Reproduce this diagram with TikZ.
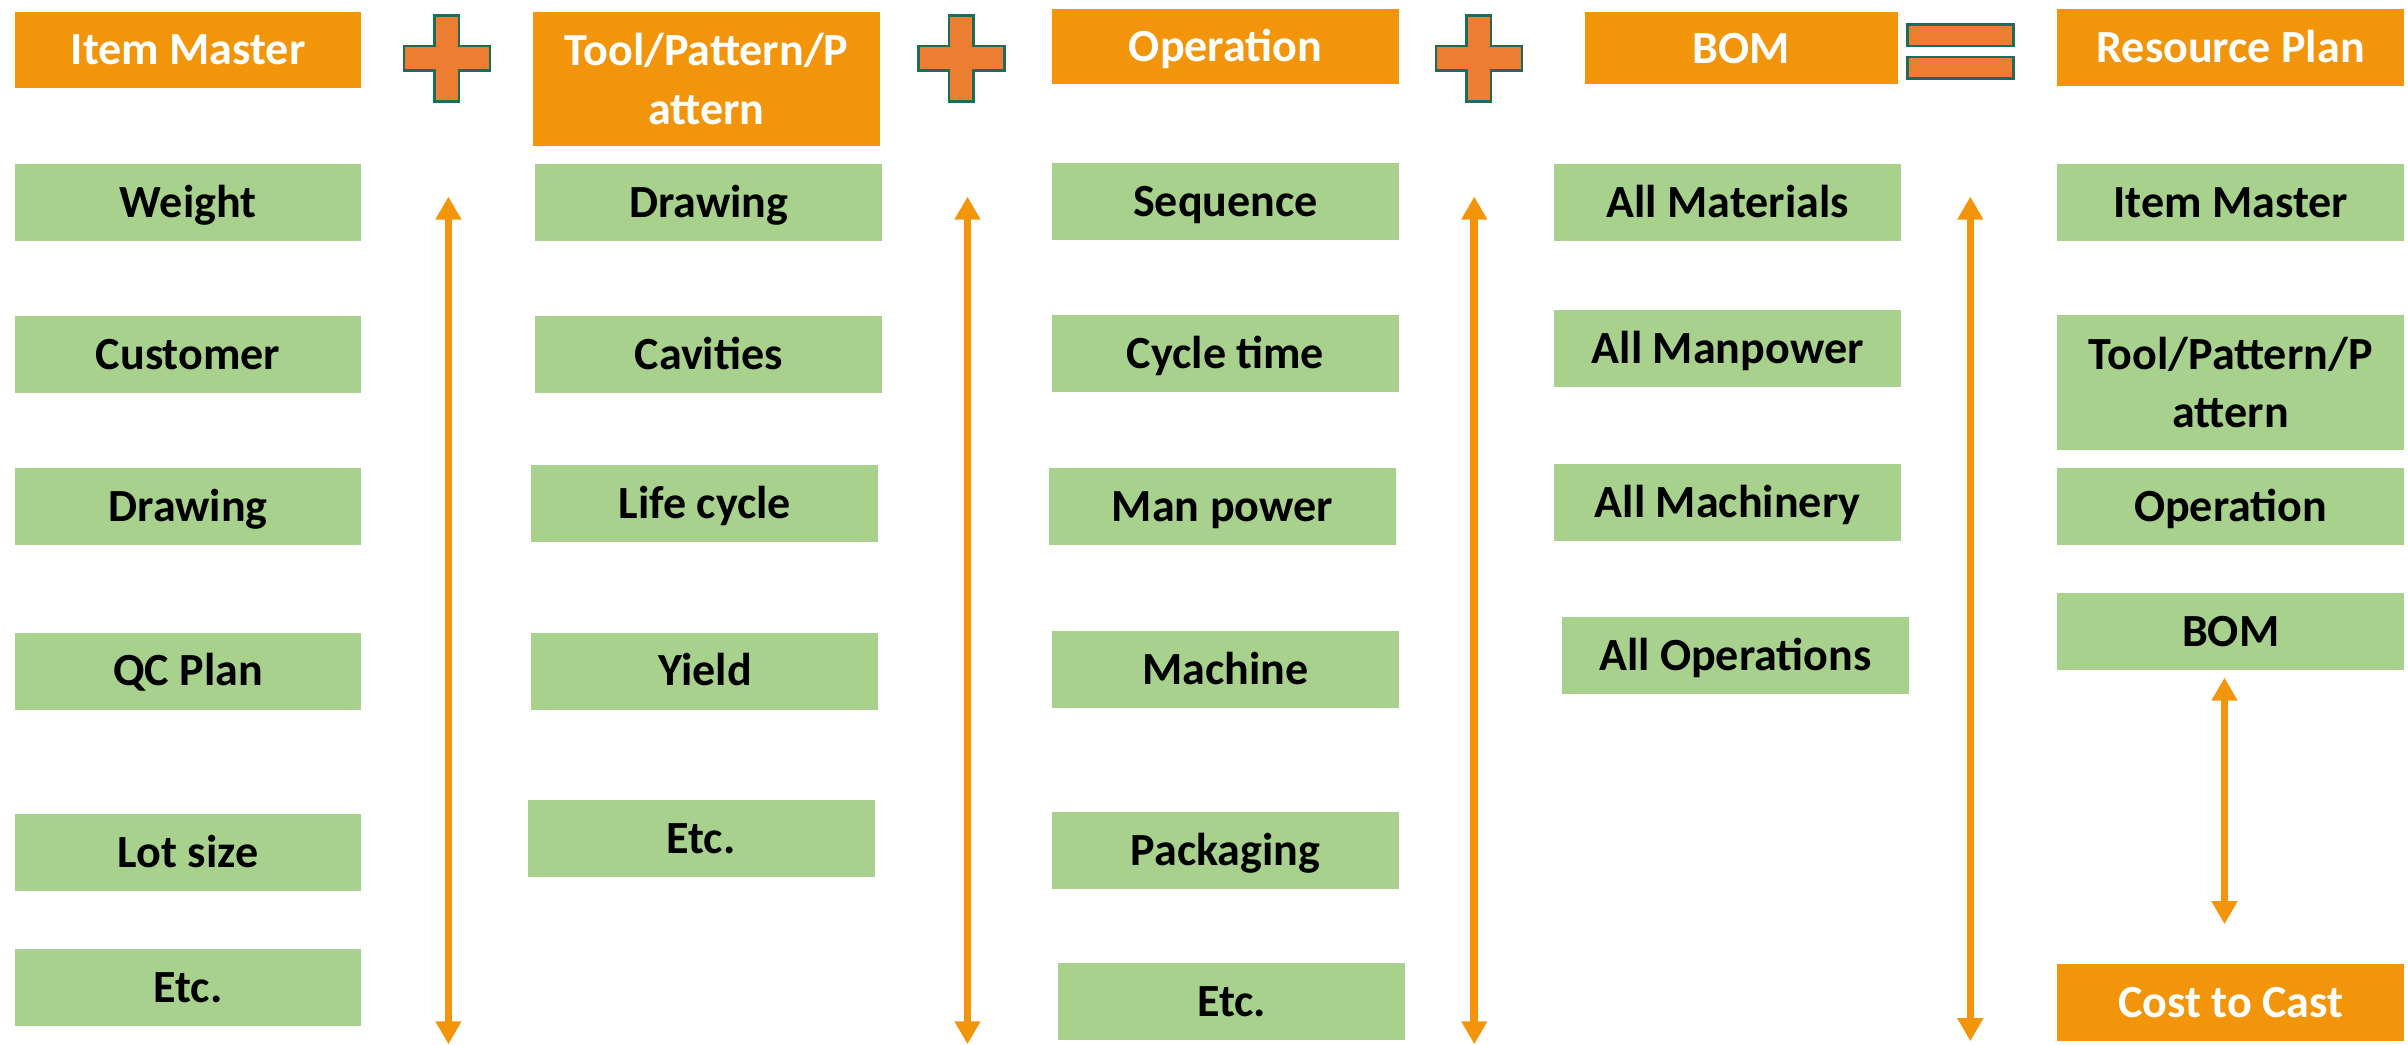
\documentclass[tikz,border=0pt]{standalone}
\usepackage{fontspec}
\setmainfont{Carlito}
\usetikzlibrary{arrows.meta}
\definecolor{hdr}{HTML}{F2950A}
\definecolor{grn}{HTML}{A9D18E}
\definecolor{plusfill}{HTML}{ED7D31}
\definecolor{plusline}{HTML}{1E6B5A}
\begin{document}
\begin{tikzpicture}[x=1pt,y=-1pt,
  base/.style={inner sep=0pt,align=center,minimum width=226pt,minimum height=50pt,font=\fontsize{30}{38}\selectfont\bfseries},
  one/.style={text height=19.3pt,text depth=0pt},
  hbox/.style={base,fill=hdr,text=white},
  gbox/.style={base,fill=grn,text=black},
  arr/.style={draw=hdr,line width=5pt,{Triangle[width=16pt,length=15pt]}-{Triangle[width=16pt,length=15pt]}},
  op/.style={fill=plusfill,draw=plusline,line width=1.6pt}]
\useasboundingbox (0,0) rectangle (1568,680);
% headers
\node[hbox,one,minimum width=225pt,minimum height=49pt] (h1) at (122.5,32.5) {Item Master};
\node[hbox,minimum height=87pt] (h2) at (460,51.5) {Tool/Pattern/P\\attern};
\node[hbox,one,minimum height=49pt] (h3) at (798,30.5) {Operation};
\node[hbox,one,minimum width=204pt,minimum height=47pt] (h4) at (1134,31.5) {BOM};
\node[hbox,one] (h5) at (1452.5,31) {Resource Plan};
% plus signs
\foreach \cx/\nm in {291/p1,626/p2,963/p3}{
  \draw[op] (\cx-8,10) -- (\cx+8,10) -- (\cx+8,30) -- (\cx+28,30) -- (\cx+28,46) -- (\cx+8,46) -- (\cx+8,66) -- (\cx-8,66) -- (\cx-8,46) -- (\cx-28,46) -- (\cx-28,30) -- (\cx-8,30) -- cycle;
}
% equals
\draw[op] (1242,16) rectangle (1311,30);
\draw[op] (1242,37) rectangle (1311,51);
% column 1
\node[gbox,one,minimum width=225pt] (c1a) at (122.5,132) {Weight};
\node[gbox,one,minimum width=225pt] (c1b) at (122.5,231) {Customer};
\node[gbox,one,minimum width=225pt] (c1c) at (122.5,330) {Drawing};
\node[gbox,one,minimum width=225pt] (c1d) at (122.5,437) {QC Plan};
\node[gbox,one,minimum width=225pt] (c1e) at (122.5,555) {Lot size};
\node[gbox,one,minimum width=225pt] (c1f) at (122.5,643) {Etc.};
% column 2
\node[gbox,one] (c2a) at (461.5,132) {Drawing};
\node[gbox,one] (c2b) at (461.5,231) {Cavities};
\node[gbox,one] (c2c) at (459,328) {Life cycle};
\node[gbox,one] (c2d) at (459,437) {Yield};
\node[gbox,one] (c2e) at (456.5,546) {Etc.};
% column 3
\node[gbox,one] (c3a) at (798,131) {Sequence};
\node[gbox,one] (c3b) at (798,230) {Cycle time};
\node[gbox,one] (c3c) at (796,330) {Man power};
\node[gbox,one] (c3d) at (798,436) {Machine};
\node[gbox,one] (c3e) at (798,554) {Packaging};
\node[gbox,one] (c3f) at (802,652) {Etc.};
% column 4
\node[gbox,one] (c4a) at (1125,132) {All Materials};
\node[gbox,one] (c4b) at (1125,227) {All Manpower};
\node[gbox,one] (c4c) at (1125,327) {All Machinery};
\node[gbox,one] (c4d) at (1130,427) {All Operations};
% column 5
\node[gbox,one] (c5a) at (1452.5,132) {Item Master};
\node[gbox,minimum height=88pt] (c5b) at (1452.5,249) {Tool/Pattern/P\\attern};
\node[gbox,one] (c5c) at (1452.5,330) {Operation};
\node[gbox,one] (c5d) at (1452.5,411) {BOM};
\node[hbox,one] (cost) at (1452.5,653) {Cost to Cast};
% arrows
\coordinate (a1t) at (292,128); \coordinate (a1b) at (292,680);
\coordinate (a2t) at (630,128); \coordinate (a2b) at (630,680);
\coordinate (a3t) at (960,128); \coordinate (a3b) at (960,680);
\coordinate (a4t) at (1283,128); \coordinate (a4b) at (1283,678);
\draw[arr] (a1t) -- (a1b);
\draw[arr] (a2t) -- (a2b);
\draw[arr] (a3t) -- (a3b);
\draw[arr] (a4t) -- (a4b);
\draw[arr,shorten <=5pt,shorten >=26pt] ([xshift=-4pt]c5d.south) -- ([xshift=-4pt]cost.north);
\end{tikzpicture}
\end{document}
